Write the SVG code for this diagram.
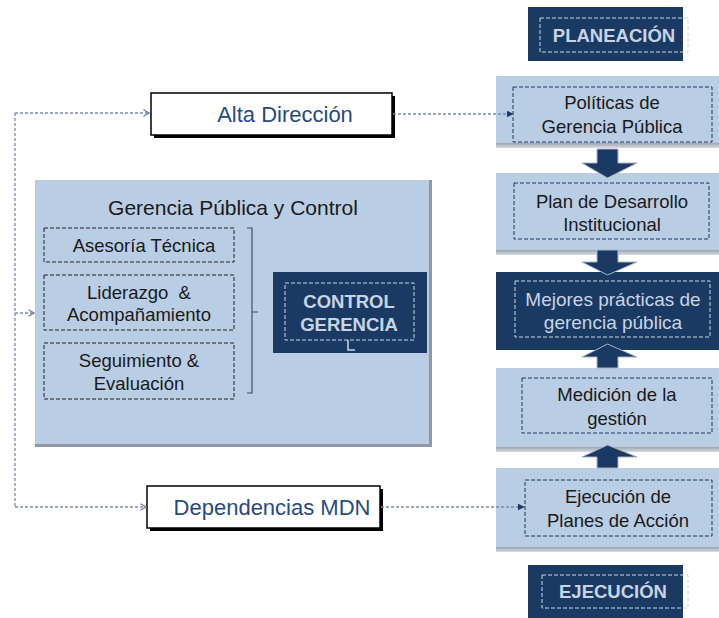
<svg xmlns="http://www.w3.org/2000/svg" width="719" height="618" viewBox="0 0 719 618">
<style>
.t{font-family:"Liberation Sans",Arial,sans-serif;text-anchor:middle}
.dk{fill:#1b3a63}
.lb{fill:#b9cde5}
.dl{fill:none;stroke:#1f3a60;stroke-width:1;stroke-dasharray:4 2}
.dd{fill:none;stroke:#c9d6e8;stroke-width:1;stroke-dasharray:4 2}
.db{fill:none;stroke:#222;stroke-width:1;stroke-dasharray:4 2}
.wb{fill:#fff;stroke:#000;stroke-width:1.5}
.conn{fill:none;stroke:#7d8aa6;stroke-width:1.3;stroke-dasharray:3 2}
.bt{fill:#1a1a1a;font-size:18.5px}
.lt{fill:#c8d4e6;font-size:18.5px;font-weight:bold}
.lt2{fill:#c8d4e6;font-size:19px}
.nav{fill:#284a7e;font-size:22px}
.arr{fill:#1b3a63;stroke:#a9b4c4;stroke-width:1}
</style>
<defs>
<marker id="chev" viewBox="0 0 10 10" refX="9" refY="5" markerWidth="8" markerHeight="8" orient="auto" markerUnits="userSpaceOnUse">
<path d="M2,1 L9,5 L2,9" fill="none" stroke="#6f7fa0" stroke-width="1.6"/>
</marker>
<marker id="tri" viewBox="0 0 10 10" refX="9" refY="5" markerWidth="7" markerHeight="7" orient="auto" markerUnits="userSpaceOnUse">
<path d="M0,0 L10,5 L0,10 z" fill="#1f3a60"/>
</marker>
<linearGradient id="bot" x1="0" y1="0" x2="0" y2="1">
<stop offset="0" stop-color="#9aa3ae"/><stop offset="1" stop-color="#d8dde3"/>
</linearGradient>
</defs>

<g id="panel-gerencia">
<rect x="35" y="180" width="397" height="267" class="lb"/>
<rect x="429" y="180" width="3" height="267" fill="#8f99a6"/>
<rect x="35" y="444" width="397" height="3" fill="#8f99a6"/>
<text x="233" y="215" class="t" style="font-size:21px;fill:#1a1a1a">Gerencia Pública y Control</text>
<path d="M247,228 H252 V393 H247 M252,312 H258" fill="none" stroke="#3a4f72" stroke-width="1.2"/>
</g>

<g id="asesoria">
<rect x="44" y="228" width="190" height="34" class="db"/>
<text x="144" y="252" class="t bt">Asesoría Técnica</text>
</g>
<g id="liderazgo">
<rect x="44" y="275" width="190" height="55" class="db"/>
<text x="139" y="299" class="t bt" xml:space="preserve">Liderazgo  &amp;</text>
<text x="139" y="321" class="t bt">Acompañamiento</text>
</g>
<g id="seguimiento">
<rect x="44" y="343" width="190" height="56" class="db"/>
<text x="139" y="367" class="t bt">Seguimiento &amp;</text>
<text x="139" y="390" class="t bt">Evaluación</text>
</g>

<g id="control-gerencia">
<rect x="273" y="272" width="154" height="81" class="dk"/>
<rect x="285" y="283" width="129" height="57" class="dd"/>
<path d="M348,340 V350 H355" fill="none" stroke="#c9d6e8" stroke-width="1.5"/>
<text x="349" y="308" class="t lt">CONTROL</text>
<text x="349" y="331" class="t lt">GERENCIA</text>
</g>

<g id="alta-direccion">
<rect x="154" y="96" width="241" height="42" fill="#000"/>
<rect x="151" y="93" width="241" height="42" class="wb"/>
<text x="285" y="122" class="t nav">Alta Dirección</text>
</g>

<g id="dependencias">
<rect x="150" y="489" width="233" height="42" fill="#000"/>
<rect x="147" y="486" width="233" height="42" class="wb"/>
<text x="272" y="515" class="t nav">Dependencias MDN</text>
</g>

<g id="planeacion">
<rect x="528" y="7" width="155" height="54" class="dk"/>
<rect x="540" y="18" width="148" height="34" class="dd"/>
<text x="614" y="42" class="t lt">PLANEACIÓN</text>
</g>

<g id="politicas">
<rect x="496" y="76" width="223" height="67" class="lb"/>
<rect x="496" y="143" width="223" height="5" fill="url(#bot)"/>
<rect x="513" y="87" width="199" height="55" class="dl"/>
<text x="612" y="109" class="t bt">Políticas de</text>
<text x="612" y="133" class="t bt">Gerencia Pública</text>
</g>

<g id="plan-desarrollo">
<rect x="496" y="173" width="223" height="77" class="lb"/>
<rect x="496" y="250" width="223" height="5" fill="url(#bot)"/>
<rect x="514" y="183" width="195" height="56" class="dl"/>
<text x="612" y="208" class="t bt">Plan de Desarrollo</text>
<text x="612" y="231" class="t bt">Institucional</text>
</g>

<g id="mejores-practicas">
<rect x="496" y="272" width="223" height="78" class="dk"/>
<rect x="515" y="281" width="195" height="56" class="dd"/>
<text x="613" y="306" class="t lt2">Mejores prácticas de</text>
<text x="613" y="329" class="t lt2">gerencia pública</text>
</g>

<g id="medicion">
<rect x="496" y="368" width="223" height="79" class="lb"/>
<rect x="496" y="447" width="223" height="5" fill="url(#bot)"/>
<rect x="522" y="378" width="190" height="55" class="dl"/>
<text x="617" y="401" class="t bt">Medición de la</text>
<text x="617" y="425" class="t bt">gestión</text>
</g>

<g id="ejecucion-planes">
<rect x="496" y="468" width="223" height="79" class="lb"/>
<rect x="496" y="547" width="223" height="5" fill="url(#bot)"/>
<rect x="525" y="480" width="187" height="56" class="dl"/>
<text x="618" y="503" class="t bt">Ejecución de</text>
<text x="618" y="527" class="t bt">Planes de Acción</text>
</g>

<g id="ejecucion">
<rect x="528" y="565" width="155" height="53" class="dk"/>
<rect x="542" y="575" width="146" height="33" class="dd"/>
<text x="613" y="598" class="t lt">EJECUCIÓN</text>
</g>

<g id="arrows">
<path class="arr" d="M597,149 H618 V163 H637 L607.5,178 L582,163 H597 Z"/>
<path class="arr" d="M597,250 H618 V262 H637 L607.5,275 L582,262 H597 Z"/>
<path class="arr" d="M597,368 H618 V357 H637 L607.5,344 L582,357 H597 Z"/>
<path class="arr" d="M597,468 H618 V457 H637 L607.5,445 L582,457 H597 Z"/>
</g>

<g id="connectors">
<path class="conn" d="M15,113 V507"/>
<path class="conn" d="M15,113 H149" marker-end="url(#chev)"/>
<path class="conn" d="M15,313 H34" marker-end="url(#chev)"/>
<path class="conn" d="M15,507 H146" marker-end="url(#chev)"/>
<path class="conn" d="M393,114 H513" marker-end="url(#tri)"/>
<path class="conn" d="M381,507 H524" marker-end="url(#tri)"/>
</g>
</svg>
